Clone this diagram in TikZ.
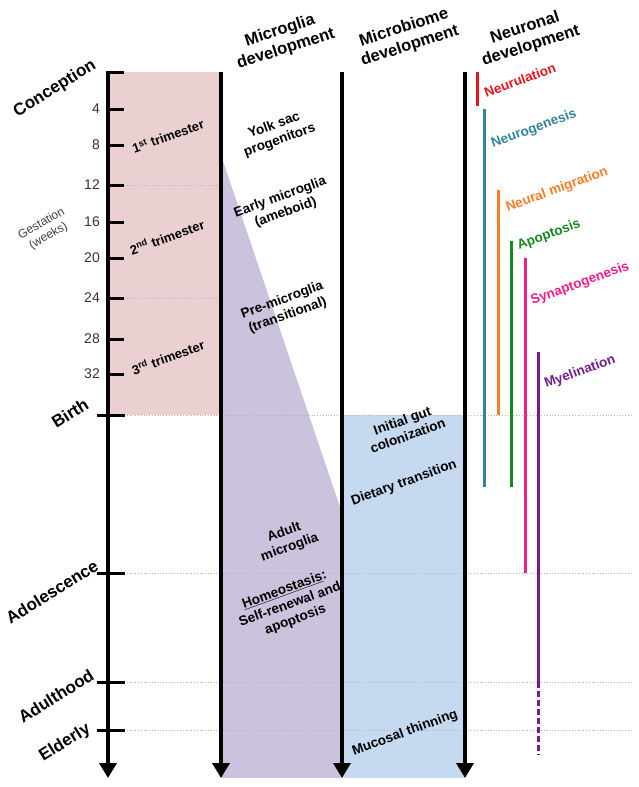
\documentclass[tikz,border=0pt]{standalone}
\usepackage{fontspec}
\setmainfont{Liberation Sans}
\usepackage{xcolor}
\usepackage{tikz}
\usetikzlibrary{arrows.meta}

\definecolor{gestpink}{RGB}{235,208,209}
\definecolor{gliapurple}{RGB}{203,195,221}
\definecolor{gutblue}{RGB}{197,217,240}
\definecolor{neurred}{RGB}{232,20,30}
\definecolor{neurteal}{RGB}{49,132,155}
\definecolor{neurorange}{RGB}{245,125,35}
\definecolor{neurgreen}{RGB}{20,135,30}
\definecolor{neurpink}{RGB}{236,30,140}
\definecolor{neurpurple}{RGB}{115,30,140}

\begin{document}
\begin{tikzpicture}[
  x=1pt, y=-1pt,
  every node/.style={inner sep=1pt},
  axis/.style={line width=4pt, -{Triangle[width=17pt,length=15pt]}},
  tick/.style={line width=3pt},
  guide/.style={gray!60, dotted, line width=0.8pt},
  bar/.style={line width=3pt},
  header/.style={font=\bfseries\fontsize{16.5}{19}\selectfont, align=center, rotate=18},
  stage/.style={font=\bfseries\fontsize{17}{19}\selectfont, rotate=32},
  week/.style={font=\fontsize{14}{16}\selectfont, anchor=east, text=black!80},
  trim/.style={font=\bfseries\fontsize{13}{15}\selectfont, rotate=20},
  phase/.style={font=\bfseries\fontsize{13.5}{16}\selectfont, align=center, rotate=20},
  event/.style={font=\bfseries\fontsize{13.5}{16}\selectfont, rotate=20}
]
\useasboundingbox (0,0) rectangle (638,787);

% --- Axis end points ---
\coordinate (tl-top) at (108,72);  \coordinate (tl-end) at (108,778);
\coordinate (mg-top) at (221,72);  \coordinate (mg-end) at (221,778);
\coordinate (mb-top) at (342,72);  \coordinate (mb-end) at (342,778);
\coordinate (nr-top) at (465,72);  \coordinate (nr-end) at (465,778);

% --- Shaded periods ---
\fill[gestpink] (tl-top) rectangle (221,415);
\fill[gliapurple] (221,155) -- (342,513) -- (mb-end) -- (mg-end) -- cycle;
\fill[gutblue] (342,415) rectangle (nr-end);

% --- Dotted guides ---
\foreach \y in {185,298} \draw[guide] (124,\y) -- (221,\y);
\foreach \y in {415,573,682,730} \draw[guide] (124,\y) -- (632,\y);

% --- Ticks and weeks ---
\draw[tick] (106,72) -- (124,72);
\foreach \y/\w in {109/4,145/8,185/12,222/16,258/20,298/24,339/28,374/32} {
  \draw[tick] (108,\y) -- (124,\y);
  \node[week] (w\w) at (101,\y) {\w};
}
\foreach \y in {415,573,682,730} \draw[tick] (97,\y) -- (125,\y);

% --- Axes ---
\draw[axis] (tl-top) -- (tl-end);
\draw[axis] (mg-top) -- (mg-end);
\draw[axis] (mb-top) -- (mb-end);
\draw[axis] (nr-top) -- (nr-end);

% --- Headers ---
\node[header] (h-glia) at (283,40) {Microglia\\development};
\node[header] (h-biome) at (407,37) {Microbiome\\development};
\node[header] (h-neur) at (528,37) {Neuronal\\development};

% --- Life stages ---
\node[stage] (s-conc) at (55,89) {Conception};
\node[stage] (s-birth) at (70,413) {Birth};
\node[stage] (s-adol) at (52,592) {Adolescence};
\node[stage] (s-adult) at (56,696) {Adulthood};
\node[stage] (s-old) at (65,743) {Elderly};
\node[font=\fontsize{12}{14}\selectfont, text=black!75, align=center, rotate=30] (gest) at (45,230) {Gestation\\(weeks)};

% --- Trimesters ---
\node[trim] (t1) at (168,136) {1\textsuperscript{st} trimester};
\node[trim] (t2) at (167,237) {2\textsuperscript{nd} trimester};
\node[trim] (t3) at (168,357) {3\textsuperscript{rd} trimester};

% --- Microglia phases ---
\node[phase] (g-yolk) at (277,133) {Yolk sac\\progenitors};
\node[phase] (g-early) at (283,205) {Early microglia\\(ameboid)};
\node[phase] (g-pre) at (285,308) {Pre-microglia\\(transitional)};
\node[phase] (g-adult) at (287,540) {Adult\\microglia};
\node[phase] (g-homeo) at (290,605) {\underline{Homeostasis}:\\Self-renewal and\\apoptosis};

% --- Microbiome phases ---
\node[phase] (b-init) at (405,428) {Initial gut\\colonization};
\node[phase] (b-diet) at (404,483) {Dietary transition};
\node[phase] (b-muc) at (405,733) {Mucosal thinning};

% --- Neuronal bars ---
\draw[bar, neurred] (477,72) -- (477,106);
\draw[bar, neurteal] (484,109) -- (484,487);
\draw[bar, neurorange] (498,190) -- (498,415);
\draw[bar, neurgreen] (511,241) -- (511,487);
\draw[bar, neurpink] (525,258) -- (525,573);
\draw[bar, neurpurple] (538,352) -- (538,682);
\draw[bar, neurpurple, dash pattern=on 6pt off 3pt] (538,682) -- (538,755);

\node[event, text=neurred] (n-rul) at (520,80) {Neurulation};
\node[event, text=neurteal] (n-gen) at (534,129) {Neurogenesis};
\node[event, text=neurorange] (n-mig) at (557,190) {Neural migration};
\node[event, text=neurgreen] (n-apo) at (549,235) {Apoptosis};
\node[event, text=neurpink] (n-syn) at (580,284) {Synaptogenesis};
\node[event, text=neurpurple] (n-mye) at (580,372) {Myelination};

\end{tikzpicture}
\end{document}
